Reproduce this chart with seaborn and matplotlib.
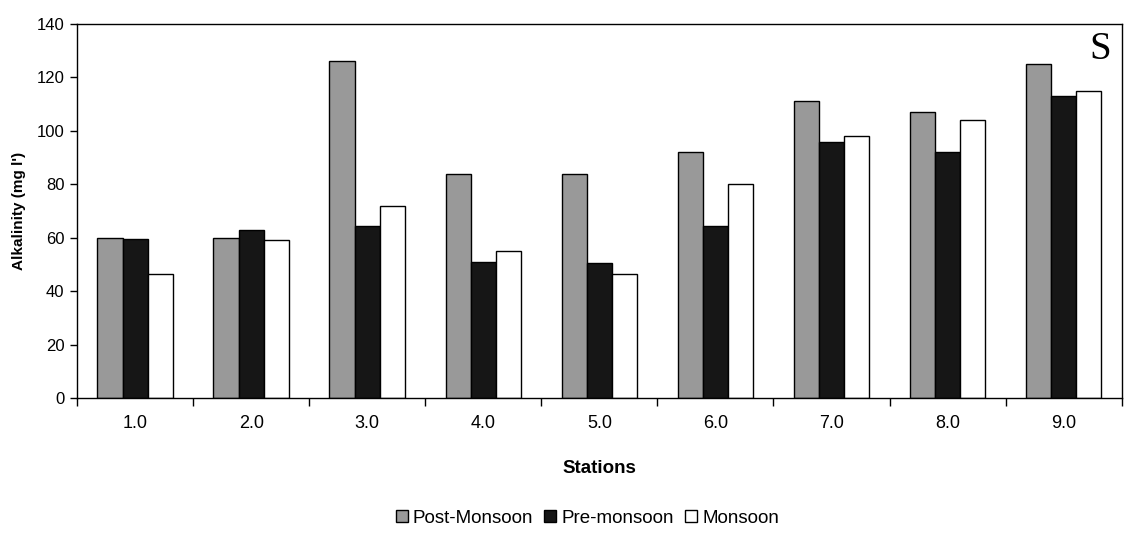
import matplotlib
matplotlib.use("Agg")
import matplotlib.pyplot as plt
import seaborn as sns
import pandas as pd
from matplotlib.lines import Line2D

stations = ["1.0", "2.0", "3.0", "4.0", "5.0", "6.0", "7.0", "8.0", "9.0"]
post_monsoon = [60, 60, 126, 84, 84, 92, 111, 107, 125]
pre_monsoon = [59.5, 63, 64.5, 51, 50.5, 64.5, 96, 92, 113]
monsoon = [46.5, 59, 72, 55, 46.5, 80, 98, 104, 115]
season_names = ["Post-Monsoon", "Pre-monsoon", "Monsoon"]
season_colors = ["#999999", "#161616", "#ffffff"]
y_ticks = [0, 20, 40, 60, 80, 100, 120, 140]

sns.set_theme(style="white")
plt.rcParams["font.family"] = ["Liberation Sans", "DejaVu Sans"]
plt.rcParams["text.color"] = "black"
plt.rcParams["axes.labelcolor"] = "black"
plt.rcParams["xtick.color"] = "black"
plt.rcParams["ytick.color"] = "black"

rows = []
for name, vals in zip(season_names, [post_monsoon, pre_monsoon, monsoon]):
    for s, v in zip(stations, vals):
        rows.append({"Station": s, "Value": v, "Season": name})
df = pd.DataFrame(rows)

fig = plt.figure(figsize=(11.33, 5.33), dpi=100)
ax = fig.add_axes([0.068, 0.253, 0.922, 0.702])

sns.barplot(data=df, x="Station", y="Value", hue="Season", order=stations,
            hue_order=season_names, palette=season_colors, width=0.65,
            edgecolor="black", linewidth=1.0, saturation=1, ax=ax, legend=False)

ax.set_xlim(-0.5, len(stations) - 0.5)
ax.set_ylim(0, 140)
ax.set_yticks(y_ticks)
ax.set_yticklabels([str(t) for t in y_ticks], fontsize=12)
ax.set_xticks(range(len(stations)))
ax.set_xticklabels(stations, fontsize=13)
ax.tick_params(axis="x", which="major", length=0, pad=12)
ax.set_xticks([i + 0.5 for i in range(-1, len(stations))], minor=True)
ax.tick_params(axis="x", which="minor", length=6, width=1, color="black", direction="out", bottom=True)
ax.tick_params(axis="y", which="major", length=5, width=1, color="black", direction="out", left=True, pad=4)

for sp in ax.spines.values():
    sp.set_visible(True)
    sp.set_color("black")
    sp.set_linewidth(1.0)

ax.set_xlabel("Stations", fontsize=13.5, fontweight="bold", labelpad=20)
ax.set_ylabel("Alkalinity (mg l')", fontsize=11, fontweight="bold", labelpad=8)

ax.text(0.979, 0.933, "S", transform=ax.transAxes, ha="center", va="center",
        fontsize=28, family=["Liberation Serif", "DejaVu Serif"])

handles = [Line2D([0], [0], marker="s", linestyle="none", markersize=9,
                  markerfacecolor=c, markeredgecolor="black", markeredgewidth=1)
           for c in season_colors]
fig.legend(handles, season_names, loc="lower center", bbox_to_anchor=(0.516, -0.02),
           ncol=3, frameon=False, fontsize=13.5, handletextpad=0.0, columnspacing=0.3,
           handlelength=1.2)

fig.savefig("out.png", dpi=100)
